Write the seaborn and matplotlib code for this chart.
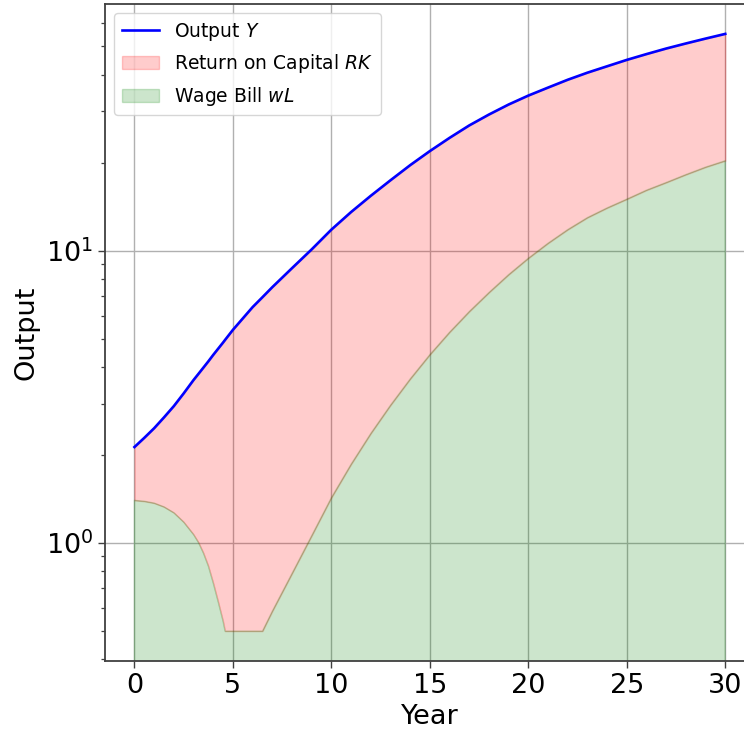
import matplotlib
matplotlib.use("Agg")
import matplotlib.pyplot as plt
import seaborn as sns
import numpy as np
import pandas as pd

# Data
years = [0, 0.5, 1, 1.5, 2, 2.5, 3, 3.25, 3.5, 3.75, 4, 4.25, 4.5, 4.6, 5, 6, 6.5,
         7, 8, 9, 10, 11, 12, 13, 14, 15, 16, 17, 18, 19, 20,
         21, 22, 23, 24, 25, 26, 27, 28, 29, 30]
output_Y = [2.13, 2.29, 2.47, 2.69, 2.94, 3.25, 3.61, 3.79, 3.98, 4.18, 4.40, 4.62, 4.85, 4.95, 5.36, 6.41, 6.93,
            7.50, 8.71, 10.1, 11.8, 13.55, 15.4, 17.4, 19.6, 21.9, 24.3, 26.8, 29.2, 31.6, 33.9,
            36.1, 38.4, 40.6, 42.7, 44.9, 47.0, 49.1, 51.1, 53.1, 55.1]
wage_bill = [1.40, 1.39, 1.37, 1.33, 1.27, 1.18, 1.07, 1.005, 0.925, 0.835, 0.73, 0.63, 0.54, 0.50, 0.50, 0.50, 0.50,
             0.585, 0.787, 1.06, 1.43, 1.86, 2.37, 2.96, 3.64, 4.41, 5.26, 6.19, 7.19, 8.28, 9.42,
             10.6, 11.8, 12.97, 14.0, 15.0, 16.1, 17.1, 18.2, 19.3, 20.3]

df = pd.DataFrame({"Year": years, "Y": output_Y, "wL": wage_bill})

plt.rcParams['font.family'] = ['DejaVu Sans']
fig = plt.figure(figsize=(7.44, 7.34), dpi=100)
ax = fig.add_axes([0.141, 0.0995, 0.8735, 0.895])

ax.set_yscale("log")
ax.grid(True, which="major", color="#b0b0b0", linewidth=1.0, zorder=0)
ax.set_axisbelow(True)

sns.lineplot(data=df, x="Year", y="Y", color="blue", linewidth=1.9,
             label="Output $Y$", ax=ax, zorder=3)
ax.fill_between(df["Year"], df["wL"], df["Y"], color="red", alpha=0.2,
                label="Return on Capital $RK$")
ax.fill_between(df["Year"], 0, df["wL"], color="green", alpha=0.2,
                label="Wage Bill $wL$")

ax.set_xlim(-1.5, 31.5)
ax.set_xlabel("Year", fontsize=19.5)
ax.set_ylabel("Output", fontsize=19.5)
ax.tick_params(axis="both", which="major", labelsize=19.5, length=5, width=1.0, color="0.25")
ax.tick_params(axis="y", which="minor", length=2.8, width=0.9, color="0.25")
for s in ax.spines.values():
    s.set_color("0.25")
    s.set_linewidth(1.3)

ax.legend(loc="upper left", fontsize=13.5, framealpha=0.8)

fig.savefig("out.png", dpi=100)
